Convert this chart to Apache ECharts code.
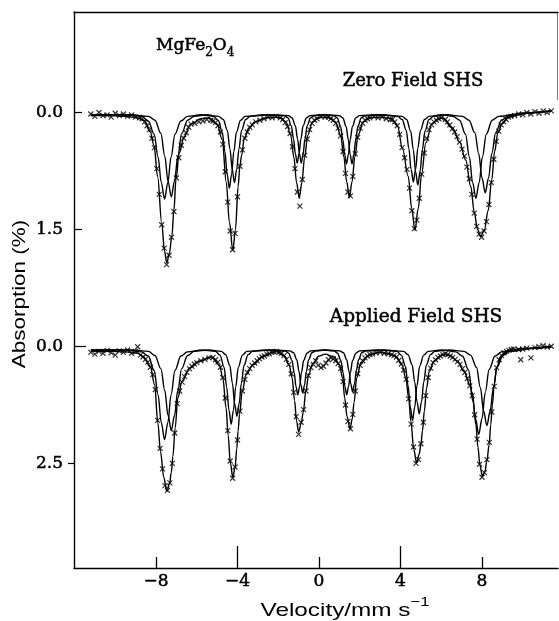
<!DOCTYPE html>
<html>
<head>
<meta charset="utf-8">
<script src="https://cdn.jsdelivr.net/npm/echarts@6/dist/echarts.min.js"></script>
<style>
html,body{margin:0;padding:0;background:#fff;}
#chart{width:559px;height:621px;}
</style>
</head>
<body>
<div id="chart"></div>
<script>
// ---------- tick labels ----------
const velocityTicks = [-8, -4, 0, 4, 8];
const velocityShortTicks = [-8, 0, 8];
const velocityLongTicks = [-4, 4];
const topAbsTicks = [0, 1.5];
const botAbsTicks = [0, 2.5];

// ---------- Zero Field SHS (top) ----------
const topTotal = [[-11.2,0.04],[-10.2,0.04],[-9.5,0.05],
[-8.9,0.07],[-8.56,0.11],[-8.28,0.25],[-8.1,0.42],[-7.92,0.82],[-7.72,1.42],[-7.58,1.78],[-7.47,1.93],[-7.34,1.8],[-7.22,1.58],[-7.12,1.25],[-7.02,0.86],[-6.86,0.52],[-6.62,0.31],[-6.3,0.15],[-5.8,0.08],
[-5.4,0.07],[-5.0,0.15],[-4.75,0.35],[-4.55,0.9],[-4.4,1.4],[-4.23,1.77],[-4.1,1.5],[-3.97,0.95],[-3.88,0.68],[-3.8,0.55],[-3.66,0.32],[-3.42,0.2],[-3.15,0.12],[-2.6,0.07],
[-2.2,0.06],
[-1.88,0.07],[-1.62,0.12],[-1.39,0.29],[-1.23,0.58],[-1.10,0.90],[-0.97,1.10],[-0.84,0.90],[-0.71,0.58],[-0.55,0.29],[-0.32,0.12],[-0.06,0.07],
[0.24,0.06],
[0.54,0.07],[0.81,0.12],[1.06,0.29],[1.22,0.57],[1.36,0.89],[1.49,1.09],[1.62,0.89],[1.76,0.57],[1.92,0.29],[2.17,0.12],[2.44,0.07],
[3.0,0.06],
[3.55,0.08],[3.85,0.17],[4.1,0.47],[4.38,0.82],[4.55,1.23],[4.71,1.51],[4.87,1.23],[5.04,0.78],[5.24,0.39],[5.54,0.15],[5.87,0.08],
[6.05,0.07],[6.55,0.2],[6.9,0.38],[7.2,0.61],[7.45,0.95],[7.62,1.28],[7.78,1.5],[7.94,1.59],[8.12,1.5],[8.3,1.26],[8.48,0.86],[8.62,0.5],[8.78,0.26],[9.0,0.14],[9.3,0.06],[10.0,0.01],[11.4,-0.02]];

const topSubA = [[-11.2,0.03],[-9.5,0.03],
[-8.70,0.05],[-8.38,0.11],[-8.09,0.28],[-7.90,0.57],[-7.74,0.90],[-7.58,1.11],[-7.42,0.90],[-7.26,0.57],[-7.07,0.28],[-6.78,0.11],[-6.46,0.05],
[-5.8,0.03],
[-5.17,0.05],[-4.95,0.10],[-4.75,0.25],[-4.62,0.50],[-4.51,0.79],[-4.40,0.97],[-4.29,0.79],[-4.18,0.50],[-4.05,0.25],[-3.85,0.10],[-3.63,0.05],
[-2.7,0.03],
[-1.70,0.04],[-1.52,0.07],[-1.36,0.17],[-1.25,0.34],[-1.16,0.53],[-1.07,0.65],[-0.98,0.53],[-0.89,0.34],[-0.78,0.17],[-0.62,0.07],[-0.44,0.04],
[0.28,0.03],
[0.99,0.04],[1.17,0.07],[1.33,0.18],[1.44,0.35],[1.53,0.54],[1.62,0.66],[1.71,0.54],[1.80,0.35],[1.91,0.18],[2.07,0.07],[2.25,0.04],
[3.15,0.03],
[4.08,0.05],[4.30,0.09],[4.50,0.24],[4.63,0.48],[4.74,0.76],[4.85,0.93],[4.96,0.76],[5.07,0.48],[5.20,0.24],[5.40,0.09],[5.62,0.05],
[6.3,0.03],
[7.04,0.05],[7.36,0.10],[7.65,0.26],[7.84,0.53],[8.00,0.84],[8.16,1.03],[8.32,0.84],[8.48,0.53],[8.67,0.26],[8.96,0.10],[9.28,0.05],
[10.5,0.0],[11.4,-0.02]];

const topSubB = [[-11.2,0.03],[-9.2,0.03],
[-8.37,0.05],[-8.05,0.10],[-7.76,0.27],[-7.57,0.56],[-7.41,0.88],[-7.25,1.08],[-7.09,0.88],[-6.93,0.56],[-6.74,0.27],[-6.45,0.10],[-6.13,0.05],
[-5.5,0.03],
[-4.92,0.05],[-4.70,0.09],[-4.50,0.23],[-4.37,0.47],[-4.26,0.73],[-4.15,0.90],[-4.04,0.73],[-3.93,0.47],[-3.80,0.23],[-3.60,0.09],[-3.38,0.05],
[-2.45,0.03],
[-1.50,0.04],[-1.32,0.07],[-1.16,0.17],[-1.05,0.34],[-0.96,0.53],[-0.87,0.65],[-0.78,0.53],[-0.69,0.34],[-0.58,0.17],[-0.42,0.07],[-0.24,0.04],
[0.24,0.03],
[0.72,0.04],[0.90,0.07],[1.06,0.18],[1.17,0.35],[1.26,0.54],[1.35,0.66],[1.44,0.54],[1.53,0.35],[1.64,0.18],[1.80,0.07],[1.98,0.04],
[2.9,0.03],
[3.86,0.05],[4.08,0.09],[4.28,0.23],[4.41,0.46],[4.52,0.73],[4.63,0.89],[4.74,0.73],[4.85,0.46],[4.98,0.23],[5.18,0.09],[5.40,0.05],
[6.0,0.03],
[6.58,0.05],[6.90,0.10],[7.19,0.28],[7.38,0.57],[7.54,0.90],[7.70,1.10],[7.86,0.90],[8.02,0.57],[8.21,0.28],[8.50,0.10],[8.82,0.05],
[10.0,0.01],[11.4,-0.02]];

const topData = [[-11.2,0.02],[-11.0,0.05],[-10.8,0.00],[-10.6,0.04],[-10.4,0.03],[-10.2,0.06],[-10.0,0.01],[-9.8,0.04],[-9.6,0.02],[-9.4,0.05],[-9.2,0.03],[-9.0,0.06],[-8.8,0.07],
[-8.68,0.08],[-8.56,0.12],[-8.44,0.17],[-8.32,0.22],[-8.20,0.33],[-8.08,0.45],[-7.96,0.72],[-7.84,1.05],[-7.72,1.44],[-7.60,1.74],[-7.48,1.95],[-7.36,1.83],[-7.24,1.60],[-7.12,1.27],[-7.00,0.84],[-6.88,0.58],[-6.76,0.42],[-6.64,0.33],[-6.52,0.26],[-6.40,0.19],[-6.28,0.15],
[-6.1,0.14],[-5.9,0.12],[-5.7,0.11],[-5.5,0.09],[-5.3,0.10],
[-5.20,0.11],[-5.08,0.13],[-4.96,0.17],[-4.84,0.25],[-4.72,0.41],[-4.60,0.76],[-4.48,1.15],[-4.36,1.52],[-4.24,1.76],[-4.12,1.55],[-4.00,1.08],[-3.88,0.69],[-3.76,0.48],[-3.64,0.33],[-3.52,0.25],[-3.40,0.19],[-3.28,0.16],
[-3.1,0.12],[-2.9,0.10],[-2.7,0.08],[-2.5,0.06],[-2.3,0.07],[-2.1,0.05],
[-1.90,0.07],[-1.78,0.09],[-1.66,0.13],[-1.54,0.18],[-1.42,0.27],[-1.30,0.44],[-1.18,0.72],[-1.06,1.02],[-0.94,1.20],[-0.82,0.86],[-0.70,0.55],[-0.58,0.34],[-0.46,0.22],[-0.34,0.14],[-0.22,0.10],[-0.10,0.08],
[0.1,0.05],[0.3,0.06],
[0.46,0.06],[0.58,0.08],[0.70,0.10],[0.82,0.14],[0.94,0.20],[1.06,0.30],[1.18,0.50],[1.30,0.78],[1.42,1.02],[1.54,1.07],[1.66,0.82],[1.78,0.53],[1.90,0.32],[2.02,0.20],[2.14,0.14],[2.26,0.10],[2.38,0.08],[2.50,0.07],
[2.7,0.05],[2.9,0.07],[3.1,0.06],[3.3,0.08],[3.5,0.09],
[3.60,0.09],[3.72,0.12],[3.84,0.17],[3.96,0.28],[4.08,0.45],[4.20,0.58],[4.32,0.73],[4.44,0.97],[4.56,1.26],[4.68,1.49],[4.80,1.38],[4.92,1.10],[5.04,0.79],[5.16,0.52],[5.28,0.33],[5.40,0.22],[5.52,0.16],[5.64,0.12],[5.76,0.10],[5.88,0.08],
[6.0,0.07],[6.2,0.09],
[6.30,0.12],[6.42,0.16],[6.54,0.21],[6.66,0.25],[6.78,0.31],[6.90,0.38],[7.02,0.47],[7.14,0.56],[7.26,0.70],[7.38,0.85],[7.50,1.05],[7.62,1.29],[7.74,1.46],[7.86,1.56],[7.98,1.60],[8.10,1.52],[8.22,1.40],[8.34,1.18],[8.46,0.90],[8.58,0.60],[8.70,0.37],[8.82,0.24],[8.94,0.16],[9.06,0.12],[9.18,0.09],[9.30,0.06],[9.42,0.05],
[9.6,0.04],[9.8,0.02],[10.0,0.03],[10.2,0.00],[10.4,0.02],[10.6,-0.01],[10.8,0.01],[11.0,-0.02],[11.2,0.00],[11.4,-0.02]];

// ---------- Applied Field SHS (bottom) ----------
const botTotal = [[-11.2,0.1],[-10.2,0.1],[-9.5,0.11],
[-8.9,0.14],[-8.64,0.21],[-8.28,0.42],[-8.07,0.81],[-7.91,1.63],[-7.78,2.25],[-7.62,2.8],[-7.47,3.10],[-7.34,2.95],[-7.25,2.70],[-7.17,2.35],[-7.06,1.74],[-6.93,1.10],[-6.72,0.74],[-6.36,0.46],[-5.87,0.31],[-5.3,0.22],
[-4.89,0.39],[-4.72,0.67],[-4.56,1.31],[-4.46,1.9],[-4.35,2.5],[-4.23,2.80],[-4.12,2.6],[-4.04,2.2],[-3.97,1.8],[-3.9,1.45],[-3.77,0.96],[-3.58,0.6],[-3.25,0.39],[-2.76,0.21],[-2.1,0.10],
[-1.7,0.2],[-1.46,0.4],[-1.32,0.67],[-1.2,1.15],[-1.1,1.6],[-1.0,1.83],[-0.88,1.65],[-0.77,1.4],[-0.65,0.96],[-0.5,0.58],[-0.31,0.36],[0.0,0.2],[0.3,0.16],
[0.75,0.22],[1.0,0.39],[1.16,0.67],[1.26,1.1],[1.38,1.5],[1.52,1.76],[1.63,1.55],[1.72,1.2],[1.85,0.67],[2.06,0.35],[2.47,0.18],[3.0,0.12],
[3.4,0.15],[3.77,0.21],[4.07,0.39],[4.26,0.67],[4.40,1.10],[4.51,1.6],[4.65,2.2],[4.79,2.49],[4.92,2.3],[5.0,2.1],[5.08,1.8],[5.17,1.38],[5.28,0.89],[5.41,0.53],[5.65,0.31],[6.06,0.17],
[6.39,0.18],[6.8,0.31],[7.12,0.53],[7.40,0.81],[7.56,1.17],[7.70,1.67],[7.80,2.15],[7.9,2.55],[8.02,2.78],[8.14,2.68],[8.24,2.45],[8.35,2.1],[8.43,1.67],[8.51,1.24],[8.6,0.81],[8.71,0.46],[8.92,0.21],[9.33,0.08],[10.0,0.04],[11.4,0.0]];

const botSubA = [[-11.2,0.07],[-9.5,0.07],
[-8.70,0.11],[-8.38,0.20],[-8.09,0.51],[-7.90,1.03],[-7.74,1.63],[-7.58,1.99],[-7.42,1.63],[-7.26,1.03],[-7.07,0.51],[-6.78,0.20],[-6.46,0.11],
[-5.75,0.07],
[-5.08,0.10],[-4.86,0.18],[-4.66,0.44],[-4.53,0.87],[-4.42,1.36],[-4.31,1.66],[-4.20,1.36],[-4.09,0.87],[-3.96,0.44],[-3.76,0.18],[-3.54,0.10],
[-2.6,0.07],
[-1.67,0.09],[-1.49,0.14],[-1.33,0.29],[-1.22,0.55],[-1.13,0.85],[-1.04,1.03],[-0.95,0.85],[-0.86,0.55],[-0.75,0.29],[-0.59,0.14],[-0.41,0.09],
[0.3,0.07],
[1.02,0.09],[1.20,0.13],[1.36,0.28],[1.47,0.52],[1.56,0.80],[1.65,0.97],[1.74,0.80],[1.83,0.52],[1.94,0.28],[2.10,0.13],[2.28,0.09],
[3.2,0.07],
[4.15,0.10],[4.37,0.17],[4.57,0.39],[4.70,0.76],[4.81,1.18],[4.92,1.44],[5.03,1.18],[5.14,0.76],[5.27,0.39],[5.47,0.17],[5.69,0.10],
[6.4,0.07],
[7.12,0.10],[7.44,0.18],[7.73,0.44],[7.92,0.88],[8.08,1.38],[8.24,1.69],[8.40,1.38],[8.56,0.88],[8.75,0.42],[9.04,0.18],[9.36,0.10],
[10.5,0.03],[11.4,0.0]];

const botSubB = [[-11.2,0.07],[-9.2,0.07],
[-8.37,0.10],[-8.05,0.19],[-7.76,0.47],[-7.57,0.94],[-7.41,1.47],[-7.25,1.80],[-7.09,1.47],[-6.93,0.94],[-6.74,0.47],[-6.45,0.19],[-6.13,0.10],
[-5.4,0.07],
[-4.80,0.10],[-4.58,0.17],[-4.38,0.40],[-4.25,0.78],[-4.14,1.22],[-4.03,1.49],[-3.92,1.22],[-3.81,0.78],[-3.68,0.40],[-3.48,0.17],[-3.26,0.10],
[-2.3,0.07],
[-1.43,0.09],[-1.25,0.13],[-1.09,0.28],[-0.98,0.53],[-0.89,0.82],[-0.80,0.99],[-0.71,0.82],[-0.62,0.53],[-0.51,0.28],[-0.35,0.13],[-0.17,0.09],
[0.28,0.07],
[0.73,0.09],[0.91,0.14],[1.07,0.29],[1.18,0.55],[1.27,0.85],[1.36,1.03],[1.45,0.85],[1.54,0.55],[1.65,0.29],[1.81,0.14],[1.99,0.09],
[2.9,0.07],
[3.82,0.10],[4.04,0.18],[4.24,0.42],[4.37,0.83],[4.48,1.29],[4.59,1.58],[4.70,1.29],[4.81,0.83],[4.94,0.42],[5.14,0.18],[5.36,0.10],
[6.0,0.07],
[6.72,0.11],[7.04,0.20],[7.33,0.49],[7.52,0.98],[7.68,1.54],[7.84,1.88],[8.00,1.54],[8.16,0.98],[8.35,0.49],[8.64,0.20],[8.96,0.11],
[10.0,0.04],[11.4,0.0]];

const botData = [[-11.2,0.12],[-11.0,0.16],[-10.8,0.10],[-10.6,0.14],[-10.4,0.08],[-10.2,0.13],[-10.0,0.18],[-9.8,0.09],[-9.6,0.12],[-9.4,0.07],[-9.2,0.14],[-9.0,0.10],[-8.9,0.00],
[-8.76,0.18],[-8.64,0.22],[-8.52,0.27],[-8.40,0.33],[-8.28,0.44],[-8.16,0.60],[-8.04,0.92],[-7.92,1.58],[-7.80,2.18],[-7.68,2.62],[-7.56,2.98],[-7.44,3.08],[-7.32,2.92],[-7.20,2.50],[-7.08,1.85],[-6.96,1.22],[-6.84,0.95],[-6.72,0.76],[-6.60,0.64],[-6.48,0.55],[-6.36,0.47],[-6.24,0.42],[-6.12,0.37],[-6.00,0.34],
[-5.8,0.30],[-5.6,0.27],[-5.4,0.24],
[-5.20,0.23],[-5.08,0.28],[-4.96,0.33],[-4.84,0.44],[-4.72,0.66],[-4.60,1.10],[-4.48,1.80],[-4.36,2.45],[-4.24,2.82],[-4.12,2.58],[-4.00,2.00],[-3.88,1.38],[-3.76,0.95],[-3.64,0.70],[-3.52,0.55],[-3.40,0.47],[-3.28,0.40],[-3.16,0.35],[-3.04,0.30],[-2.92,0.26],[-2.80,0.22],[-2.68,0.20],[-2.56,0.16],[-2.44,0.15],[-2.32,0.12],[-2.20,0.11],[-2.08,0.10],
[-1.96,0.12],[-1.84,0.14],[-1.72,0.19],[-1.60,0.27],[-1.48,0.38],[-1.36,0.58],[-1.24,0.98],[-1.12,1.50],[-1.00,1.88],[-0.88,1.62],[-0.76,1.35],[-0.64,0.95],[-0.52,0.62],[-0.40,0.45],[-0.28,0.38],[-0.16,0.30],[-0.04,0.40],
[0.1,0.45],[0.22,0.42],[0.34,0.35],
[0.46,0.28],[0.58,0.24],[0.70,0.26],[0.82,0.30],[0.94,0.36],[1.06,0.47],[1.18,0.75],[1.30,1.25],[1.42,1.60],[1.54,1.76],[1.66,1.45],[1.78,0.95],[1.90,0.58],[2.02,0.40],[2.14,0.30],[2.26,0.24],[2.38,0.20],[2.50,0.17],[2.62,0.16],
[2.8,0.13],[3.0,0.12],[3.2,0.14],[3.4,0.15],
[3.56,0.17],[3.68,0.19],[3.80,0.22],[3.92,0.29],[4.04,0.37],[4.16,0.50],[4.28,0.70],[4.40,1.12],[4.52,1.66],[4.64,2.15],[4.76,2.50],[4.88,2.42],[5.00,2.08],[5.12,1.62],[5.24,1.05],[5.36,0.66],[5.48,0.46],[5.60,0.34],[5.72,0.28],[5.84,0.23],[5.96,0.20],[6.08,0.17],
[6.20,0.15],[6.32,0.17],[6.44,0.20],[6.56,0.23],[6.68,0.27],[6.80,0.32],[6.92,0.38],[7.04,0.47],[7.16,0.55],[7.28,0.68],[7.40,0.84],[7.52,1.05],[7.64,1.46],[7.76,1.98],[7.88,2.52],[8.00,2.80],[8.12,2.70],[8.24,2.42],[8.36,2.05],[8.48,1.40],[8.60,0.85],[8.72,0.45],[8.84,0.28],[8.96,0.19],[9.08,0.13],[9.20,0.10],[9.32,0.08],[9.44,0.06],[9.56,0.05],
[9.8,0.06],[9.9,0.28],[10.0,0.05],[10.2,0.03],[10.4,0.24],[10.6,0.02],[10.8,0.00],[11.0,-0.02],[11.2,0.01],[11.4,-0.01]];

// ---------- chart ----------
const X_MIN = -12.025, X_MAX = 11.73;
const serif = 'DejaVu Serif';
const crossSymbol = 'path://M0,0L10,10M10,0L0,10';
const thick = { textBorderColor: '#000', textBorderWidth: 0.5 };

function scatterSeries(data, xi, yi) {
  return {
    type: 'scatter', data: data, xAxisIndex: xi, yAxisIndex: yi,
    symbol: crossSymbol, symbolSize: 5,
    itemStyle: { color: 'rgba(0,0,0,0)', borderColor: '#000', borderWidth: 1.2 },
    silent: true, z: 3
  };
}
function lineSeries(data, xi, yi) {
  return {
    type: 'line', data: data, xAxisIndex: xi, yAxisIndex: yi,
    showSymbol: false, smooth: 0.35, smoothMonotone: 'x',
    lineStyle: { color: '#000', width: 1.4 }, silent: true, z: 2
  };
}

const chart = echarts.init(document.getElementById('chart'), null, { renderer: 'canvas' });
chart.setOption({
  animation: false,
  backgroundColor: '#fff',
  grid: [
    { left: 74, right: 1, top: 12, height: 278 },
    { left: 74, right: 1, top: 290, height: 278 }
  ],
  xAxis: [
    { type: 'value', gridIndex: 0, position: 'top', min: X_MIN, max: X_MAX,
      axisLine: { show: true, onZero: false, lineStyle: { color: '#000', width: 1.3 } },
      axisTick: { show: false }, axisLabel: { show: false }, splitLine: { show: false } },
    { type: 'value', gridIndex: 1, position: 'bottom', min: X_MIN, max: X_MAX,
      axisLine: { show: true, onZero: false, lineStyle: { color: '#000', width: 1.4 } },
      axisTick: { show: true, inside: true, length: 11, customValues: velocityShortTicks, lineStyle: { color: '#000', width: 1.3 } },
      axisLabel: Object.assign({ show: true, customValues: velocityTicks, margin: 5, color: '#000', fontFamily: serif, fontSize: 17,
        formatter: v => (v < 0 ? '\u2212' + Math.abs(v) : String(v)) }, thick),
      splitLine: { show: false } },
    { type: 'value', gridIndex: 1, position: 'bottom', offset: 0, min: X_MIN, max: X_MAX,
      axisLine: { show: false, onZero: false },
      axisTick: { show: true, inside: true, length: 22, customValues: velocityLongTicks, lineStyle: { color: '#000', width: 1.3 } },
      axisLabel: { show: false }, splitLine: { show: false } }
  ],
  yAxis: [
    { type: 'value', gridIndex: 0, inverse: true, min: -1.288, max: 2.276,
      axisLine: { show: true, onZero: false, lineStyle: { color: '#000', width: 1.4 } },
      axisTick: { show: true, inside: true, length: 8, customValues: topAbsTicks, lineStyle: { color: '#000', width: 1.2 } },
      axisLabel: Object.assign({ show: true, customValues: topAbsTicks, margin: 11, color: '#000', fontFamily: serif, fontSize: 17,
        formatter: v => v.toFixed(1) }, thick),
      splitLine: { show: false } },
    { type: 'value', gridIndex: 1, inverse: true, min: -1.216, max: 4.745,
      axisLine: { show: true, onZero: false, lineStyle: { color: '#000', width: 1.4 } },
      axisTick: { show: true, inside: true, length: 12, customValues: [botAbsTicks[0]], lineStyle: { color: '#000', width: 1.2 } },
      axisLabel: Object.assign({ show: true, customValues: botAbsTicks, margin: 11, color: '#000', fontFamily: serif, fontSize: 17,
        formatter: v => v.toFixed(1) }, thick),
      splitLine: { show: false } },
    { type: 'value', gridIndex: 1, inverse: true, min: -1.216, max: 4.745, position: 'left', offset: 0,
      axisLine: { show: false, onZero: false },
      axisTick: { show: true, inside: false, length: 6, customValues: [botAbsTicks[1]], lineStyle: { color: '#000', width: 1.2 } },
      axisLabel: { show: false }, splitLine: { show: false } }
  ],
  graphic: [
    { type: 'line', shape: { x1: 557.5, y1: 12, x2: 557.5, y2: 100 }, style: { stroke: '#777', lineWidth: 1 }, silent: true },
    { type: 'text', x: 156, y: 37, silent: true,
      style: { text: '{n|MgFe}{s|2}{n|O}{s|4}', align: 'left', verticalAlign: 'top', stroke: '#000', lineWidth: 0.5,
        rich: { n: { fontFamily: serif, fontSize: 17, lineHeight: 22, verticalAlign: 'top', fill: '#000', stroke: '#000', lineWidth: 0.5 },
                s: { fontFamily: serif, fontSize: 12, lineHeight: 14, padding: [12, 0, 0, 0], verticalAlign: 'bottom', fill: '#000', stroke: '#000', lineWidth: 0.4 } } } },
    { type: 'text', x: 413, y: 81, silent: true,
      style: { text: 'Zero Field SHS', font: '18px "DejaVu Serif"', fill: '#000', stroke: '#000', lineWidth: 0.5, align: 'center', verticalAlign: 'middle' } },
    { type: 'text', x: 416, y: 317, silent: true,
      style: { text: 'Applied Field SHS', font: '18.5px "DejaVu Serif"', fill: '#000', stroke: '#000', lineWidth: 0.5, align: 'center', verticalAlign: 'middle' } },
    { type: 'text', x: 20, y: 294, rotation: Math.PI / 2, scaleX: 1.18, silent: true,
      style: { text: 'Absorption (%)', font: '19px "Liberation Sans"', fill: '#000', align: 'center', verticalAlign: 'middle' } },
    { type: 'text', x: 345, y: 608, scaleX: 1.28, silent: true,
      style: { text: '{n|Velocity/mm s}{p|\u22121}', align: 'center', verticalAlign: 'middle',
        rich: { n: { fontFamily: 'Liberation Sans', fontSize: 19, lineHeight: 24, verticalAlign: 'bottom', fill: '#000' },
                p: { fontFamily: 'Liberation Sans', fontSize: 13, lineHeight: 14, verticalAlign: 'top', fill: '#000' } } } }
  ],
  series: [
    lineSeries(topTotal, 0, 0), lineSeries(topSubA, 0, 0), lineSeries(topSubB, 0, 0), scatterSeries(topData, 0, 0),
    lineSeries(botTotal, 1, 1), lineSeries(botSubA, 1, 1), lineSeries(botSubB, 1, 1), scatterSeries(botData, 1, 1)
  ]
});
</script>
</body>
</html>
